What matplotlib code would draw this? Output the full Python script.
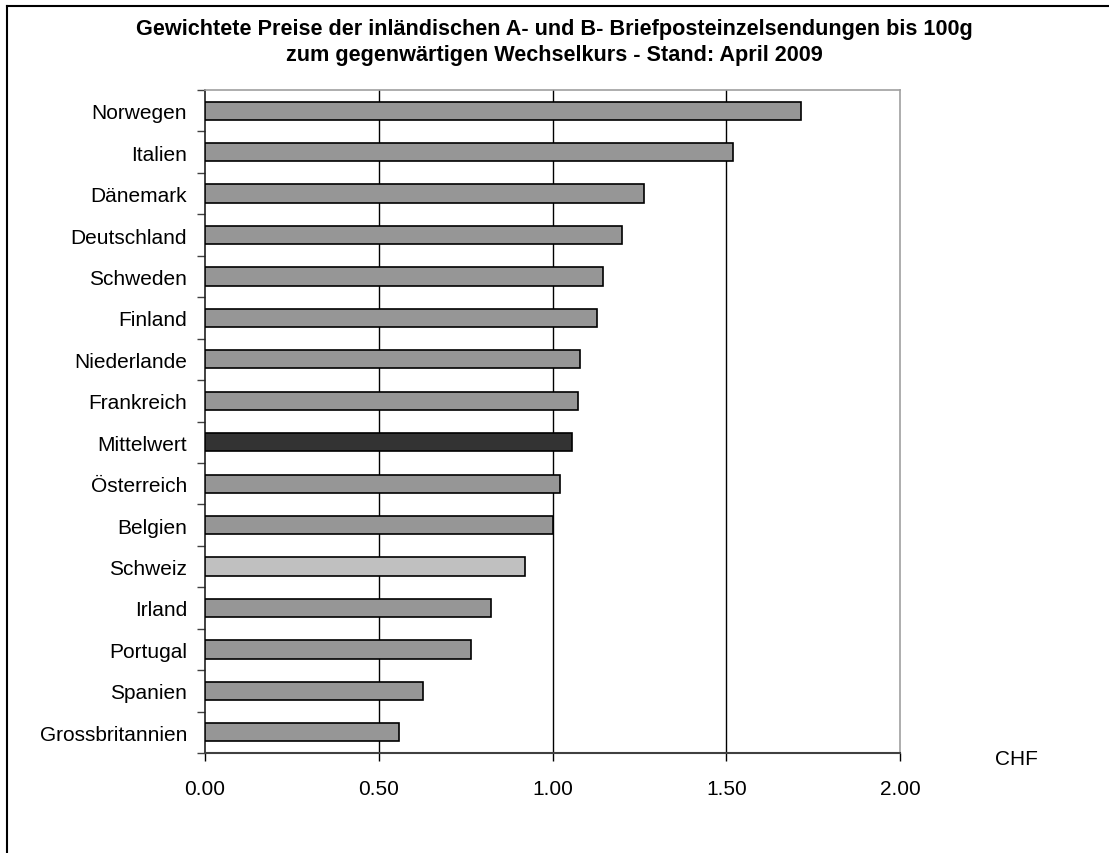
import numpy as np
import matplotlib.pyplot as plt
from matplotlib.lines import Line2D

plt.rcParams['font.family'] = ['Liberation Sans', 'DejaVu Sans']

laender = ['Norwegen', 'Italien', 'Dänemark', 'Deutschland', 'Schweden',
           'Finland', 'Niederlande', 'Frankreich', 'Mittelwert', 'Österreich',
           'Belgien', 'Schweiz', 'Irland', 'Portugal', 'Spanien',
           'Grossbritannien']
preise = [1.715, 1.520, 1.263, 1.201, 1.146, 1.127, 1.080, 1.072, 1.057,
          1.023, 1.000, 0.922, 0.823, 0.765, 0.628, 0.558]
x_ticks = [0.0, 0.5, 1.0, 1.5, 2.0]

# Farben: Mittelwert dunkel, Schweiz hell, Rest mittelgrau
farben = []
for name in laender:
    if name == 'Mittelwert':
        farben.append('#333333')
    elif name == 'Schweiz':
        farben.append('#c0c0c0')
    else:
        farben.append('#969696')

fig = plt.figure(figsize=(11.09, 8.54), dpi=100)
ax = fig.add_axes([205 / 1109, 1 - 754 / 854, 695 / 1109, 663 / 854])

y = np.arange(len(laender))
ax.barh(y, preise, height=0.44, color=farben, edgecolor='black',
        linewidth=1.2, zorder=3)

ax.set_xlim(0, 2.0)
ax.set_ylim(len(laender) - 0.5, -0.5)
ax.set_xticks(x_ticks)
ax.set_xticklabels(['{:.2f}'.format(v) for v in x_ticks], fontsize=15)
ax.tick_params(axis='x', direction='out', length=6, width=1, pad=13,
               color='black')
for v in x_ticks[1:-1]:
    ax.axvline(v, color='black', linewidth=1, zorder=1)

# Kategorien: Striche an den Grenzen, Beschriftung in der Mitte
ax.set_yticks(np.arange(len(laender) + 1) - 0.5)
ax.set_yticklabels([])
ax.set_yticks(y, minor=True)
ax.set_yticklabels(laender, minor=True, fontsize=15)
ax.tick_params(axis='y', which='major', direction='out', length=6, width=1,
               color='#404040')
ax.tick_params(axis='y', which='minor', length=0, pad=13)

for s in ['top', 'right']:
    ax.spines[s].set_color('#a0a0a0')
    ax.spines[s].set_linewidth(1.2)
ax.spines['bottom'].set_color('#404040')
ax.spines['bottom'].set_linewidth(1.5)
ax.spines['left'].set_color('#202020')
ax.spines['left'].set_linewidth(1.2)

fig.text(1016 / 1109, 1 - 760 / 854, 'CHF', fontsize=15,
         ha='center', va='center')

fig.text(0.5, 1 - 29 / 854,
         'Gewichtete Preise der inländischen A- und B- Briefposteinzelsendungen bis 100g',
         fontsize=15.6, fontweight='bold', ha='center', va='center')
fig.text(0.5, 1 - 55 / 854,
         'zum gegenwärtigen Wechselkurs - Stand: April 2009',
         fontsize=15.6, fontweight='bold', ha='center', va='center')

# Rahmen um das Diagramm (oben und links sichtbar)
fig.add_artist(Line2D([7 / 1109, 1.0], [1 - 7 / 854, 1 - 7 / 854],
                      transform=fig.transFigure, color='black', linewidth=1.5))
fig.add_artist(Line2D([7 / 1109, 7 / 1109], [0.0, 1 - 7 / 854],
                      transform=fig.transFigure, color='black', linewidth=1.5))

plt.savefig('out.png', dpi=100)
